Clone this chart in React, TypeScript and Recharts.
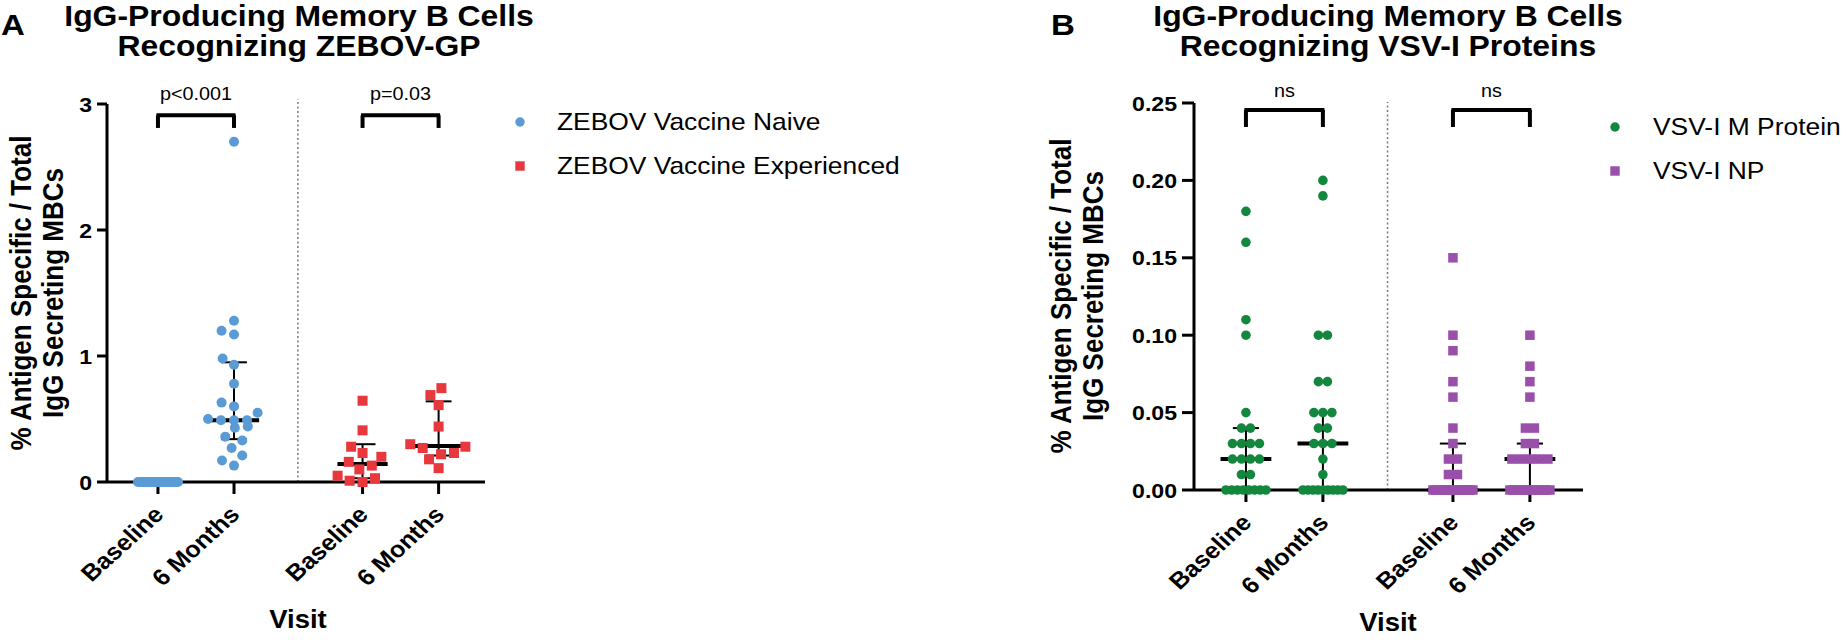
import React from 'react';
import { ScatterChart, Scatter, XAxis, YAxis, ReferenceLine, Legend } from 'recharts';

const SX = 1.1;
const FONT = '"Liberation Sans", Arial, Helvetica, sans-serif';

// ---------- categories ----------
const visitLabels = ['Baseline', '6 Months', 'Baseline', '6 Months'];
const visitPositions = [1, 2, 3.69, 4.69];
const dividerPos = 2.84;

// ---------- Panel A values (% antigen specific / total IgG MBCs) ----------
const naiveBaseline = [0, 0, 0, 0, 0, 0, 0, 0, 0, 0, 0, 0, 0, 0, 0, 0, 0, 0, 0, 0, 0, 0];
const naive6M = [2.7, 1.28, 1.2, 1.17, 0.98, 0.93, 0.78, 0.63, 0.6, 0.55, 0.5, 0.49, 0.49, 0.49, 0.44, 0.43, 0.36, 0.33, 0.27, 0.21, 0.17, 0.13];
const expBaseline = [0.645, 0.41, 0.28, 0.23, 0.2, 0.16, 0.13, 0.1, 0.05, 0.03, 0.01, 0];
const exp6M = [0.745, 0.69, 0.61, 0.44, 0.3, 0.28, 0.27, 0.23, 0.22, 0.18, 0.11];
// median, q1, q3 per column (null = not drawn)
const statsA = [null, { med: 0.49, q1: 0.34, q3: 0.95 }, { med: 0.143, q1: 0.03, q3: 0.3 }, { med: 0.285, q1: 0.21, q3: 0.64 }];
const yTicksA = [0, 1, 2, 3];
const bracketsA = [
  { from: 1, to: 2, y: 2.91, leg: 0.1, text: 'p<0.001' },
  { from: 3.69, to: 4.69, y: 2.91, leg: 0.1, text: 'p=0.03' },
];

// ---------- Panel B values ----------
const mBaseline = [0.18, 0.16, 0.11, 0.1, 0.05, 0.04, 0.04, 0.03, 0.03, 0.03, 0.03, 0.02, 0.02, 0.02, 0.02, 0.01, 0.01, 0, 0, 0, 0, 0, 0, 0, 0];
const m6M = [0.2, 0.19, 0.1, 0.1, 0.07, 0.07, 0.05, 0.05, 0.05, 0.04, 0.04, 0.03, 0.03, 0.03, 0.02, 0.01, 0, 0, 0, 0, 0, 0, 0, 0, 0];
const npBaseline = [0.15, 0.1, 0.09, 0.07, 0.06, 0.04, 0.03, 0.02, 0.02, 0.01, 0.01, 0, 0, 0, 0, 0, 0, 0, 0, 0, 0, 0, 0, 0, 0];
const np6M = [0.1, 0.08, 0.07, 0.06, 0.04, 0.04, 0.03, 0.03, 0.02, 0.02, 0.02, 0.02, 0.02, 0, 0, 0, 0, 0, 0, 0, 0, 0, 0, 0, 0];
const statsB = [{ med: 0.02, q1: 0, q3: 0.04 }, { med: 0.03, q1: 0, q3: 0.05 }, { med: 0, q1: 0, q3: 0.03 }, { med: 0.02, q1: 0, q3: 0.03 }];
const yTicksB = [0, 0.05, 0.1, 0.15, 0.2, 0.25];
const bracketsB = [
  { from: 1, to: 2, y: 0.2455, leg: 0.011, text: 'ns' },
  { from: 3.69, to: 4.69, y: 0.2455, leg: 0.011, text: 'ns' },
];

const COLORS = { blue: '#5b9bd5', red: '#e8383d', green: '#13873d', purple: '#9a4fab' };

// ---------- beeswarm layout (GraphPad-like scatter dot plot) ----------
function swarm(values: number[], pos: number, pxPerY: number, pxPerX: number, d: number, W: number) {
  const sorted = [...values].sort((a, b) => a - b);
  const groups: number[][] = [];
  for (const v of sorted) {
    const g = groups[groups.length - 1];
    if (g && g[0] === v) g.push(v);
    else groups.push([v]);
  }
  const placed: { v: number; off: number }[] = [];
  for (const g of groups) {
    const n = g.length;
    if (n > 1) {
      const step = Math.min(d, (2 * W) / (n - 1));
      g.forEach((v, i) => placed.push({ v, off: (i - (n - 1) / 2) * step }));
    } else {
      const v = g[0];
      const ivs: number[][] = [];
      placed.forEach((p) => {
        const dy = Math.abs(p.v - v) * pxPerY;
        if (dy < d) {
          const h = Math.sqrt(d * d - dy * dy);
          ivs.push([p.off - h, p.off + h]);
        }
      });
      const cands = [0, ...ivs.flat()].sort((a, b) => Math.abs(a) - Math.abs(b) || a - b);
      const ok = cands.find((c) => ivs.every((iv) => c <= iv[0] + 1e-6 || c >= iv[1] - 1e-6));
      placed.push({ v, off: ok ?? 0 });
    }
  }
  return placed.map((p) => ({ x: pos + p.off / pxPerX, y: p.v }));
}

const PXY_A = 126, PXX_A = 76, PXY_B = 1548, PXX_B = 77;
const naiveData = [...swarm(naiveBaseline, visitPositions[0], PXY_A, PXX_A, 13, 20), ...swarm(naive6M, visitPositions[1], PXY_A, PXX_A, 13, 20)];
const expData = [...swarm(expBaseline, visitPositions[2], PXY_A, PXX_A, 13, 20), ...swarm(exp6M, visitPositions[3], PXY_A, PXX_A, 13, 20)];
const mData = [...swarm(mBaseline, visitPositions[0], PXY_B, PXX_B, 9, 20), ...swarm(m6M, visitPositions[1], PXY_B, PXX_B, 9, 20)];
const npData = [...swarm(npBaseline, visitPositions[2], PXY_B, PXX_B, 9, 20), ...swarm(np6M, visitPositions[3], PXY_B, PXX_B, 9, 20)];

// ---------- helpers ----------
const ST = ({ x, y, size, weight = 'normal', anchor = 'start', rotate = 0, children }: any) => (
  <text
    transform={`translate(${x},${y}) scale(${SX},1)${rotate ? ` rotate(${rotate})` : ''}`}
    fontSize={size}
    fontWeight={weight}
    textAnchor={anchor}
    fontFamily={FONT}
    fill="#000"
  >
    {children}
  </text>
);

const Circle = (color: string, r: number) => (p: any) => <circle cx={p.cx} cy={p.cy} r={r} fill={color} />;
const Square = (color: string, s: number) => (p: any) => <rect x={p.cx - s / 2} y={p.cy - s / 2} width={s} height={s} fill={color} />;

const makeXTick = () => (props: any) => {
  const { x, y, payload } = props;
  const idx = visitPositions.indexOf(payload.value);
  return (
    <ST x={x + 7} y={y + 20} size={23} weight="bold" anchor="end" rotate={-45}>
      {visitLabels[idx]}
    </ST>
  );
};
const makeYTick = (digits: number) => (props: any) => {
  const { x, y, payload } = props;
  return (
    <ST x={x - 3} y={y + 7.5} size={21} weight="bold" anchor="end">
      {digits ? Number(payload.value).toFixed(digits) : String(payload.value)}
    </ST>
  );
};

function errorBars(stats: any[], prefix: string) {
  const out: any[] = [];
  stats.forEach((s, i) => {
    if (!s) return;
    const p = visitPositions[i];
    const common = { stroke: '#000', ifOverflow: 'visible' as const };
    out.push(<ReferenceLine key={`${prefix}v${i}`} segment={[{ x: p, y: s.q1 }, { x: p, y: s.q3 }]} strokeWidth={2} {...common} />);
    out.push(<ReferenceLine key={`${prefix}c1${i}`} segment={[{ x: p - 0.17, y: s.q1 }, { x: p + 0.17, y: s.q1 }]} strokeWidth={2} {...common} />);
    out.push(<ReferenceLine key={`${prefix}c3${i}`} segment={[{ x: p - 0.17, y: s.q3 }, { x: p + 0.17, y: s.q3 }]} strokeWidth={2} {...common} />);
    out.push(<ReferenceLine key={`${prefix}m${i}`} segment={[{ x: p - 0.33, y: s.med }, { x: p + 0.33, y: s.med }]} strokeWidth={4} {...common} />);
  });
  return out;
}

function brackets(list: any[], prefix: string) {
  const out: any[] = [];
  list.forEach((b, i) => {
    const common = { stroke: '#000', strokeWidth: 4, ifOverflow: 'visible' as const };
    out.push(<ReferenceLine key={`${prefix}h${i}`} segment={[{ x: b.from - 0.02, y: b.y }, { x: b.to + 0.02, y: b.y }]} {...common} />);
    out.push(<ReferenceLine key={`${prefix}l${i}`} segment={[{ x: b.from, y: b.y }, { x: b.from, y: b.y - b.leg }]} {...common} />);
    out.push(<ReferenceLine key={`${prefix}r${i}`} segment={[{ x: b.to, y: b.y }, { x: b.to, y: b.y - b.leg }]} {...common} />);
  });
  return out;
}

const labelShape = (dy: number) => (p: any) => (
  <ST x={p.cx} y={p.cy - dy} size={18} anchor="middle">
    {p.payload && p.payload.text}
  </ST>
);

const legendA = [
  { name: 'ZEBOV Vaccine Naive', color: COLORS.blue, shape: 'circle' },
  { name: 'ZEBOV Vaccine Experienced', color: COLORS.red, shape: 'square' },
];
const legendB = [
  { name: 'VSV-I M Protein', color: COLORS.green, shape: 'circle' },
  { name: 'VSV-I NP', color: COLORS.purple, shape: 'square' },
];

const LegendBox = ({ items, mx, tx, baseY, gap, w }: any) => (
  <svg width={w} height={100} style={{ overflow: 'visible' }}>
    {items.map((it: any, i: number) => {
      const by = baseY + i * gap;
      const cy = by - 8;
      return (
        <g key={it.name}>
          {it.shape === 'circle' ? (
            <circle cx={mx} cy={cy} r={4.7} fill={it.color} />
          ) : (
            <rect x={mx - 4.7} y={cy - 4.7} width={9.4} height={9.4} fill={it.color} />
          )}
          <ST x={tx} y={by} size={24}>
            {it.name}
          </ST>
        </g>
      );
    })}
  </svg>
);

const axisCommon = {
  axisLine: { stroke: '#000', strokeWidth: 3 },
  tickLine: { stroke: '#000', strokeWidth: 3 },
};

export default function App() {
  return (
    <div style={{ position: 'absolute', left: 0, top: 0, width: 1846, height: 640, background: '#fff', overflow: 'hidden' }}>
      <svg style={{ position: 'absolute', left: 0, top: 0 }} width={1846} height={640}>
        {/* Panel A */}
        <ST x={1} y={35} size={30} weight="bold">A</ST>
        <ST x={299} y={26} size={29} weight="bold" anchor="middle">IgG-Producing Memory B Cells</ST>
        <ST x={299} y={56} size={29} weight="bold" anchor="middle">Recognizing ZEBOV-GP</ST>
        <ST x={31} y={293} size={26} weight="bold" anchor="middle" rotate={-90}>% Antigen Specific / Total</ST>
        <ST x={63} y={293} size={26} weight="bold" anchor="middle" rotate={-90}>IgG Secreting MBCs</ST>
        <ST x={298} y={628} size={25} weight="bold" anchor="middle">Visit</ST>
        {/* Panel B */}
        <ST x={1051} y={35} size={30} weight="bold">B</ST>
        <ST x={1388} y={26} size={29} weight="bold" anchor="middle">IgG-Producing Memory B Cells</ST>
        <ST x={1388} y={56} size={29} weight="bold" anchor="middle">Recognizing VSV-I Proteins</ST>
        <ST x={1071} y={296} size={26} weight="bold" anchor="middle" rotate={-90}>% Antigen Specific / Total</ST>
        <ST x={1103} y={296} size={26} weight="bold" anchor="middle" rotate={-90}>IgG Secreting MBCs</ST>
        <ST x={1388} y={631} size={25} weight="bold" anchor="middle">Visit</ST>
      </svg>

      <div style={{ position: 'absolute', left: 0, top: 0 }}>
        <ScatterChart width={1000} height={640} margin={{ top: 104, right: 515, bottom: 58, left: 47 }}>
          <XAxis
            type="number"
            dataKey="x"
            domain={[0.33, 5.3]}
            ticks={visitPositions}
            interval={0}
            tickSize={12}
            height={100}
            tick={makeXTick()}
            {...axisCommon}
          />
          <YAxis
            type="number"
            dataKey="y"
            domain={[0, 3]}
            ticks={yTicksA}
            interval={0}
            tickSize={10}
            width={60}
            tick={makeYTick(0)}
            {...axisCommon}
          />
          <ReferenceLine
            segment={[{ x: dividerPos, y: 0 }, { x: dividerPos, y: 3.04 }]}
            stroke="#777"
            strokeWidth={1.5}
            strokeDasharray="2 2.5"
            ifOverflow="visible"
          />
          <Scatter name="ZEBOV Vaccine Naive" data={naiveData} shape={Circle(COLORS.blue, 5)} isAnimationActive={false} />
          <Scatter name="ZEBOV Vaccine Experienced" data={expData} shape={Square(COLORS.red, 10)} isAnimationActive={false} />
          {errorBars(statsA, 'A')}
          {brackets(bracketsA, 'A')}
          <Scatter
            name="pA"
            legendType="none"
            data={bracketsA.map((b) => ({ x: (b.from + b.to) / 2, y: b.y, text: b.text }))}
            shape={labelShape(15)}
            isAnimationActive={false}
          />
          <Legend
            layout="vertical"
            align="center"
            verticalAlign="middle"
            wrapperStyle={{ left: 500, top: 100, width: 400, height: 100 }}
            content={() => <LegendBox items={legendA} mx={20} tx={57} baseY={30} gap={44} w={400} />}
          />
        </ScatterChart>
      </div>

      <div style={{ position: 'absolute', left: 1000, top: 0 }}>
        <ScatterChart width={846} height={640} margin={{ top: 103, right: 263, bottom: 50, left: 134 }}>
          <XAxis
            type="number"
            dataKey="x"
            domain={[0.325, 5.38]}
            ticks={visitPositions}
            interval={0}
            tickSize={12}
            height={100}
            tick={makeXTick()}
            {...axisCommon}
          />
          <YAxis
            type="number"
            dataKey="y"
            domain={[0, 0.25]}
            ticks={yTicksB}
            interval={0}
            tickSize={12}
            width={60}
            tick={makeYTick(2)}
            {...axisCommon}
          />
          <ReferenceLine
            segment={[{ x: dividerPos, y: 0 }, { x: dividerPos, y: 0.2506 }]}
            stroke="#777"
            strokeWidth={1.5}
            strokeDasharray="2 2.5"
            ifOverflow="visible"
          />
          <Scatter name="VSV-I M Protein" data={mData} shape={Circle(COLORS.green, 4.8)} isAnimationActive={false} />
          <Scatter name="VSV-I NP" data={npData} shape={Square(COLORS.purple, 9.5)} isAnimationActive={false} />
          {errorBars(statsB, 'B')}
          {brackets(bracketsB, 'B')}
          <Scatter
            name="pB"
            legendType="none"
            data={bracketsB.map((b) => ({ x: (b.from + b.to) / 2, y: b.y, text: b.text }))}
            shape={labelShape(13)}
            isAnimationActive={false}
          />
          <Legend
            layout="vertical"
            align="center"
            verticalAlign="middle"
            wrapperStyle={{ left: 600, top: 100, width: 246, height: 100 }}
            content={() => <LegendBox items={legendB} mx={15} tx={53} baseY={35} gap={44} w={246} />}
          />
        </ScatterChart>
      </div>
    </div>
  );
}
